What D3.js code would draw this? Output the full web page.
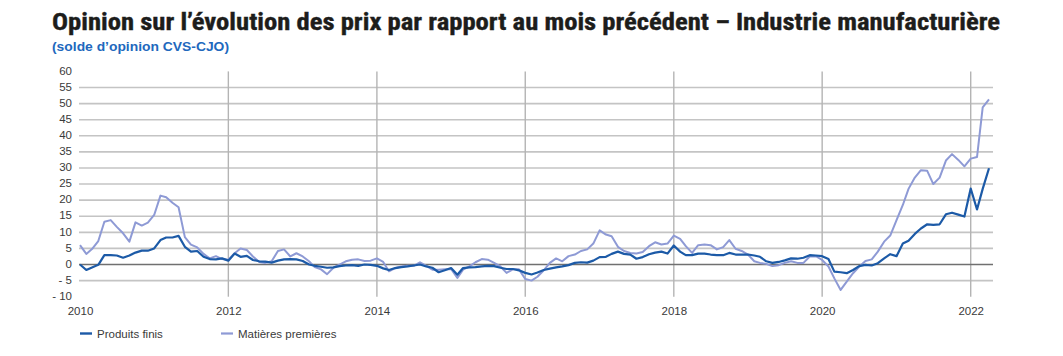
<!DOCTYPE html>
<html>
<head>
<meta charset="utf-8">
<script src="https://cdn.jsdelivr.net/npm/d3@7"></script>
<style>
  html, body { margin: 0; padding: 0; background: #ffffff; }
  svg { display: block; }
</style>
</head>
<body>
<svg id="chart" width="1063" height="356"></svg>
<script>
// ---- Data (monthly, Jan 2010 – Apr 2022) ----
const startYear = 2010;
const seriesNames = ["Produits finis", "Matières premières"];
const produitsFinis = [
  0.0, -1.7, -0.9, -0.1, 2.9, 2.9, 2.8, 2.1, 2.8, 3.7, 4.3, 4.3,
  5.0, 7.6, 8.4, 8.4, 8.9, 5.5, 4.0, 4.2, 2.4, 1.7, 1.6, 1.9,
  1.2, 3.4, 2.4, 2.7, 1.4, 1.0, 0.9, 0.6, 1.2, 1.6, 1.7, 1.6,
  1.1, 0.0, -0.4, -0.7, -1.0, -0.9, -0.5, -0.3, -0.2, -0.4, 0.0, -0.1,
  -0.4, -1.2, -1.7, -1.1, -0.8, -0.6, -0.3, 0.0, -0.6, -1.0, -2.4, -1.8,
  -1.1, -3.2, -1.1, -0.9, -0.8, -0.6, -0.4, -0.5, -1.0, -1.4, -1.4, -1.8,
  -2.6, -3.1, -2.5, -1.7, -1.3, -0.9, -0.6, -0.2, 0.5, 0.7, 0.6, 1.2,
  2.3, 2.4, 3.3, 4.0, 3.3, 3.1, 1.8, 2.3, 3.2, 3.7, 4.0, 3.4,
  5.9, 4.0, 2.9, 2.9, 3.4, 3.4, 3.1, 2.9, 2.9, 3.6, 3.1, 3.1,
  3.1, 2.8, 2.4, 1.0, 0.5, 0.8, 1.3, 1.9, 1.8, 2.1, 2.9, 2.8,
  2.6, 1.7, -2.2, -2.4, -2.7, -1.7, -0.5, -0.1, -0.3, 0.4, 1.9, 3.2,
  2.6, 6.5, 7.4, 9.5, 11.2, 12.5, 12.3, 12.5, 15.6, 16.1, 15.5, 14.9,
  23.6, 17.1, 23.5, 29.9
];
const matieresPremieres = [
  6.0, 3.3, 4.8, 7.3, 13.3, 13.8, 11.7, 9.7, 7.1, 13.1, 12.1, 13.0,
  15.4, 21.4, 20.9, 19.2, 17.8, 8.5, 6.2, 5.3, 3.3, 1.9, 2.6, 1.7,
  1.5, 3.5, 5.0, 4.5, 2.5, 0.8, 0.5, 1.0, 4.2, 4.7, 2.5, 3.5,
  2.5, 1.0, -0.8, -1.5, -3.0, -1.0, 0.0, 1.0, 1.5, 1.6, 1.1, 1.2,
  1.9, 0.8, -2.1, -1.1, -0.6, -0.4, -0.4, 0.7, -0.4, -1.6, -1.6, -1.5,
  -1.4, -4.2, -1.6, -0.6, 0.7, 1.7, 1.5, 0.5, -0.6, -2.6, -1.5, -1.5,
  -4.5, -5.0, -3.8, -1.8, 0.5, 1.9, 1.0, 2.6, 3.1, 4.2, 4.7, 6.5,
  10.6, 9.3, 8.8, 5.5, 4.2, 3.6, 3.4, 3.9, 5.7, 6.9, 6.2, 6.5,
  9.0, 8.0, 5.7, 3.6, 6.0, 6.2, 6.0, 4.7, 5.4, 7.6, 4.9, 4.2,
  3.1, 1.0, 0.5, 0.2, -0.5, -0.2, 0.5, 1.0, 0.5, 0.5, 2.5, 2.6,
  1.4, -0.6, -4.3, -7.9, -5.3, -2.7, -0.7, 1.1, 1.6, 4.0, 7.1, 9.0,
  13.8, 18.5, 23.5, 27.0, 29.3, 29.1, 25.0, 27.0, 32.3, 34.3, 32.5, 30.5,
  32.9, 33.4, 48.8, 51.3
];
const yTicks = [-10, -5, 0, 5, 10, 15, 20, 25, 30, 35, 40, 45, 50, 55, 60];
const xTickYears = [2010, 2012, 2014, 2016, 2018, 2020, 2022];
const titleText = "Opinion sur l’évolution des prix par rapport au mois précédent – Industrie manufacturière";
const subtitleText = "(solde d’opinion CVS-CJO)";

// ---- Styles ----
const colPF = "#1c5aa7";
const colMP = "#8e9ad5";
const gridCol = "#c4c4c4";
const vGridCol = "#b4b4b4";
const zeroCol = "#707070";
const textCol = "#3a3a3a";
const axisFont = "Liberation Sans, Arial, sans-serif";

const svg = d3.select("#chart");
svg.append("rect").attr("width", 1063).attr("height", 356).attr("fill", "#fff");

const dates = produitsFinis.map((_, i) => new Date(startYear, i, 1));
const x = d3.scaleTime()
  .domain([dates[0], dates[dates.length - 1]])
  .range([80, 989]);
const y = d3.scaleLinear().domain([-10, 60]).range([296.7, 71.4]);

const xLeft = 79, xRight = x.range()[1] + 4;

// Title
svg.append("text")
  .attr("x", 52).attr("y", 30)
  .attr("font-family", "Liberation Sans Narrow, Roboto Condensed, Roboto, sans-serif")
  .attr("font-weight", "bold").attr("font-size", 23)
  .attr("fill", "#1d1d1b")
  .attr("stroke", "#1d1d1b").attr("stroke-width", 0.35)
  .attr("textLength", 948).attr("lengthAdjust", "spacingAndGlyphs")
  .text(titleText);
svg.append("text")
  .attr("x", 52).attr("y", 50.5)
  .attr("font-family", axisFont)
  .attr("font-weight", "bold").attr("font-size", 13)
  .attr("fill", "#2168bd")
  .attr("textLength", 177).attr("lengthAdjust", "spacingAndGlyphs")
  .text(subtitleText);

// Horizontal gridlines
const gH = svg.append("g");
gH.selectAll("line").data(yTicks.filter(v => v !== -10 && v !== 60 && v !== 0))
  .join("line")
  .attr("x1", xLeft).attr("x2", xRight)
  .attr("y1", d => y(d)).attr("y2", d => y(d))
  .attr("stroke", gridCol).attr("stroke-width", 1.6);

// Vertical gridlines
const tickDates = xTickYears.map(yr => new Date(yr, 0, 1));
svg.append("g").selectAll("line").data(tickDates.slice(1))
  .join("line")
  .attr("x1", d => x(d)).attr("x2", d => x(d))
  .attr("y1", y(60)).attr("y2", y(-10))
  .attr("stroke", vGridCol).attr("stroke-width", 1.4);

// Zero line
svg.append("line")
  .attr("x1", xLeft).attr("x2", xRight)
  .attr("y1", y(0)).attr("y2", y(0))
  .attr("stroke", zeroCol).attr("stroke-width", 1.6);

// Y axis labels
const yAxis = d3.axisLeft(y).tickValues(yTicks).tickSize(0).tickPadding(0)
  .tickFormat(v => v < 0 ? "- " + Math.abs(v) : String(v));
const gy = svg.append("g").attr("transform", "translate(72,-1)").call(yAxis);
gy.select(".domain").remove();
gy.selectAll("text").attr("font-family", axisFont).attr("font-size", 11.5).attr("fill", textCol);

// X axis labels
const xAxis = d3.axisBottom(x).tickValues(tickDates).tickSize(0).tickPadding(0)
  .tickFormat(d3.timeFormat("%Y"));
const gx = svg.append("g").attr("transform", "translate(0,306.5)").call(xAxis);
gx.select(".domain").remove();
gx.selectAll("text").attr("font-family", axisFont).attr("font-size", 11.5).attr("fill", textCol);

// Lines
const line = d3.line().x((d, i) => x(dates[i])).y(d => y(d));
svg.append("path").datum(matieresPremieres)
  .attr("d", line).attr("fill", "none")
  .attr("stroke", colMP).attr("stroke-width", 2).attr("stroke-linejoin", "round");
svg.append("path").datum(produitsFinis)
  .attr("d", line).attr("fill", "none")
  .attr("stroke", colPF).attr("stroke-width", 2.2).attr("stroke-linejoin", "round");

// Legend
const legend = [
  { name: seriesNames[0], color: colPF, x: 80, w: 2.4 },
  { name: seriesNames[1], color: colMP, x: 221, w: 2.2 }
];
const lg = svg.append("g");
legend.forEach(l => {
  lg.append("line").attr("x1", l.x).attr("x2", l.x + 12)
    .attr("y1", 333.5).attr("y2", 333.5)
    .attr("stroke", l.color).attr("stroke-width", l.w);
  lg.append("text").attr("x", l.x + 17).attr("y", 337.5)
    .attr("font-family", axisFont).attr("font-size", 11.5).attr("fill", textCol)
    .text(l.name);
});
</script>
</body>
</html>
